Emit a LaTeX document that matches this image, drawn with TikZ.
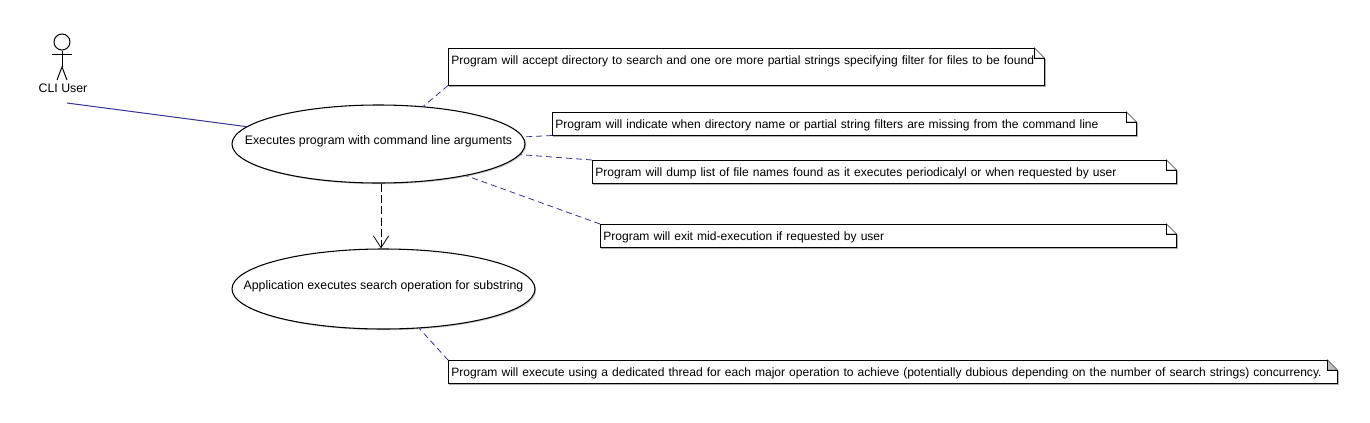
\documentclass[tikz,border=0pt]{standalone}
\usepackage{fontspec}
\setmainfont{Liberation Sans}
\usetikzlibrary{shapes.geometric, arrows.meta, shadows}
\newcommand{\pxu}{0.75pt}
\definecolor{notelink}{HTML}{333399}
\definecolor{foldgray}{HTML}{C0C0C0}

\begin{document}
\begin{tikzpicture}[x=0.75pt, y=-0.75pt, font=\fontsize{9.25pt}{11pt}\selectfont]
    \tikzstyle{usecase} = [ellipse, draw=black, line width=0.8pt, fill=white, inner sep=0pt, drop shadow={shadow xshift=0.9pt, shadow yshift=-0.9pt, fill=gray!60, opacity=0.7}]
    \tikzstyle{caselabel} = [inner sep=0pt, yshift=2.25pt]
    \tikzstyle{note} = [anchor=north west, fill=white, inner ysep=0pt, inner xsep=3*\pxu, text height=12pt, text depth=5.25pt, align=left, font=\fontsize{9.05pt}{11pt}\selectfont]
    \tikzstyle{noteedge} = [draw=black, line width=0.75pt, line join=miter]
    \tikzstyle{noteshadow} = [draw=gray!60, line width=0.75pt]
    \tikzstyle{fold} = [draw=black!55, line width=0.6pt, fill=white]
    \tikzstyle{notelinkline} = [notelink, line width=0.6pt, dash pattern=on 4.5pt off 3pt]
    \tikzstyle{actorline} = [black, line width=0.75pt]
    \tikzstyle{assoc} = [notelink, line width=0.75pt]
    \tikzstyle{depend} = [black, line width=0.75pt, dash pattern=on 6pt off 2.5pt, -{Straight Barb[length=9pt, width=11.5pt, line width=0.6pt]}]

    \useasboundingbox (0,0) rectangle (1370,422);

    % actor
    \node (head) [circle, draw=black, line width=0.75pt, minimum size=16*\pxu, inner sep=0pt] at (62,42) {};
    \coordinate (hip) at (62,67);
    \coordinate (hands) at (62,54);
    \draw [actorline] (head.south) -- (hip);
    \draw [actorline] ([xshift=-10*\pxu]hands) -- ([xshift=10*\pxu]hands);
    \draw [actorline] (57,80) -- (hip) -- (67,80);
    \node (user) [inner sep=0pt] at (63,88) {CLI User};
    \coordinate (userend) at (67,103);

    % use cases
    \node (exec) [usecase, minimum width=293*\pxu, minimum height=78*\pxu, label={[caselabel]center:Executes program with command line arguments}] at (378.5,144) {};
    \node (search) [usecase, minimum width=303*\pxu, minimum height=80*\pxu, label={[caselabel]center:Application executes search operation for substring}] at (383.5,289) {};

    % notes
    \node (notea) [note, text width=590*\pxu, minimum height=37*\pxu, text depth=15.75pt] at (448,48) {Program will accept directory to search and one ore more partial strings specifying filter for files to be found};
    \node (noteb) [note, text width=578*\pxu, minimum height=23*\pxu] at (552,112) {Program will indicate when directory name or partial string filters are missing from the command line};
    \node (notec) [note, text width=578*\pxu, minimum height=23*\pxu] at (592,160) {Program will dump list of file names found as it executes periodicalyl or when requested by user};
    \node (noted) [note, text width=570*\pxu, minimum height=23*\pxu] at (600,224) {Program will exit mid-execution if requested by user};
    \node (notee) [note, text width=883*\pxu, minimum height=22*\pxu] at (448,360) {Program will execute using a dedicated thread for each major operation to achieve (potentially dubious depending on the number of search strings) concurrency.};

    % note outlines, corner folded
    \foreach \n/\foldfill in {notea/white, noteb/white, notec/white, noted/white, notee/foldgray} {
        \draw [noteshadow] ([shift={(1,1)}]\n.south west) -- ([shift={(1,1)}]\n.south east) -- ([shift={(1,11)}]\n.north east);
        \fill [white] ([xshift=-10*\pxu]\n.north east) -- (\n.north east) -- ([yshift=-10*\pxu]\n.north east) -- cycle;
        \draw [noteedge] ([xshift=-10*\pxu]\n.north east) -- (\n.north west) -- (\n.south west) -- (\n.south east) -- ([yshift=-10*\pxu]\n.north east);
        \draw [fold, fill=\foldfill] ([xshift=-10*\pxu]\n.north east) -- ([yshift=-10*\pxu]\n.north east) -- ([shift={(-10*\pxu,-10*\pxu)}]\n.north east) -- cycle;
        \draw [noteedge] ([xshift=-10*\pxu]\n.north east) -- ([shift={(-10*\pxu,-10*\pxu)}]\n.north east) -- ([yshift=-10*\pxu]\n.north east);
    }

    \draw [assoc] (userend) -- (exec);
    \draw [depend] ([xshift=2.5*\pxu]exec.south) -- ([xshift=-2.5*\pxu]search.north);
    \draw [notelinkline] (notea.south west) -- (exec);
    \draw [notelinkline] (noteb.south west) -- (exec);
    \draw [notelinkline] (notec.north west) -- (exec);
    \draw [notelinkline] (noted.north west) -- (exec);
    \draw [notelinkline] (notee.north west) -- (search);
\end{tikzpicture}
\end{document}
